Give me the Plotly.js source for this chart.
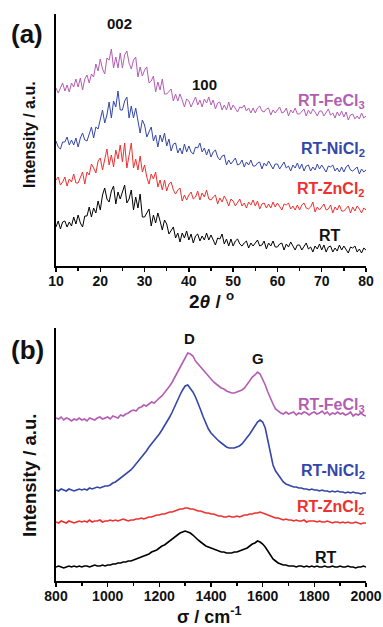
<!DOCTYPE html>
<html>
<head>
<meta charset="utf-8">
<script src="https://cdn.plot.ly/plotly-3.0.1.min.js"></script>
<style>html,body{margin:0;padding:0;background:#fff}#chart{width:383px;height:627px}</style>
</head>
<body>
<div id="chart"></div>
<script>
// ---------- (a) XRD data ----------
const twoTheta = [10,10.5,11,11.5,12,12.5,13,13.5,14,14.5,15,15.5,16,16.5,17,17.5,18,18.5,19,19.5,
20,20.5,21,21.5,22,22.5,23,23.5,24,24.5,25,25.5,26,26.5,27,27.5,28,28.5,29,29.5,
30,30.5,31,31.5,32,32.5,33,33.5,34,34.5,35,35.5,36,36.5,37,37.5,38,38.5,39,39.5,
40,40.5,41,41.5,42,42.5,43,43.5,44,44.5,45,45.5,46,46.5,47,47.5,48,48.5,49,49.5,
50,50.5,51,51.5,52,52.5,53,53.5,54,54.5,55,55.5,56,56.5,57,57.5,58,58.5,59,59.5,
60,60.5,61,61.5,62,62.5,63,63.5,64,64.5,65,65.5,66,66.5,67,67.5,68,68.5,69,69.5,
70,70.5,71,71.5,72,72.5,73,73.5,74,74.5,75,75.5,76,76.5,77,77.5,78,78.5,79,79.5,80];

const xrdFeCl3 = [178,173,178,183,175,181,174,183,179,187,
179,188,176,187,191,183,192,189,202,195,
207,197,192,208,206,217,198,209,198,213,
198,211,215,203,197,206,209,189,199,190,
196,199,183,185,190,174,184,176,187,172,
172,175,177,165,172,165,172,166,159,167,
165,159,164,169,161,166,159,167,163,169,
161,166,157,163,164,156,161,156,164,156,
161,157,154,159,158,161,155,158,153,158,
153,158,160,155,154,157,158,151,156,153,
156,159,153,154,158,150,156,153,158,152,
152,155,157,150,156,152,157,154,150,155,
155,150,154,157,151,153,148,154,150,155,
149,154,146,151,152,147,150,147,153,148,150];

const xrdNiCl2 = [125,119,117,124,124,129,121,126,121,128,
119,128,133,126,125,133,139,128,139,137,
146,156,143,151,164,148,165,159,175,156,
156,165,169,148,160,148,158,146,133,146,
141,129,134,139,125,131,119,131,124,133,
120,127,115,122,123,113,118,112,122,114,
120,114,112,119,118,123,114,118,111,117,
109,114,116,109,106,110,111,101,106,102,
105,108,101,102,106,99,104,101,106,100,
100,103,104,97,103,100,105,101,97,102,
102,97,101,104,98,100,95,101,98,103,
97,102,95,100,101,95,99,96,102,97,
101,97,94,100,99,101,95,98,94,99,
94,99,101,96,95,97,99,92,97,94,96];

const xrdZnCl2 = [86,89,81,84,89,80,87,84,92,83,
83,88,94,82,94,91,102,98,93,105,
108,96,108,117,101,111,99,116,107,121,
104,123,98,111,123,98,107,96,110,94,
101,89,82,92,87,94,79,86,76,86,
75,82,84,76,72,76,78,65,71,66,
71,74,67,69,75,66,73,69,76,67,
66,69,71,62,68,64,70,66,60,67,
65,60,64,67,60,63,58,64,61,66,
60,65,57,62,63,58,62,58,64,59,
63,59,56,62,61,63,57,60,56,61,
56,61,63,58,57,59,64,54,59,56,
59,62,56,57,61,53,59,56,61,55,
55,58,60,53,59,55,60,57,53,58,56];

const xrdRT = [39,45,37,44,45,39,44,40,49,42,
51,43,39,50,50,59,49,58,53,65,
56,71,78,67,64,75,80,62,74,67,
74,81,63,67,76,56,69,58,72,49,
49,53,57,40,51,43,53,45,36,46,
42,32,36,39,28,33,24,33,28,35,
26,32,23,30,32,25,30,26,33,26,
31,25,21,28,27,32,22,27,20,27,
20,25,27,22,20,23,25,18,23,20,
23,26,20,21,25,17,23,20,25,19,
19,22,23,16,22,19,24,20,16,21,
21,16,20,23,17,19,14,20,17,22,
16,21,14,19,20,14,18,15,21,16,
20,16,13,19,18,20,14,17,13,18,16];

// ---------- (b) Raman data ----------
const wavenumber = [800,810,820,830,840,850,860,870,880,890,
900,910,920,930,940,950,960,970,980,990,
1000,1010,1020,1030,1040,1050,1060,1070,1080,1090,
1100,1110,1120,1130,1140,1150,1160,1170,1180,1190,
1200,1210,1220,1230,1240,1250,1260,1270,1280,1290,
1300,1310,1320,1330,1340,1350,1360,1370,1380,1390,
1400,1410,1420,1430,1440,1450,1460,1470,1480,1490,
1500,1510,1520,1530,1540,1550,1560,1570,1580,1590,
1600,1610,1620,1630,1640,1650,1660,1670,1680,1690,
1700,1710,1720,1730,1740,1750,1760,1770,1780,1790,
1800,1810,1820,1830,1840,1850,1860,1870,1880,1890,
1900,1910,1920,1930,1940,1950,1960,1970,1980,1990,2000];

const ramanFeCl3 = [163,162,164,161,163,162,160,162,161,163,
161,162,160,163,162,161,163,164,162,163,
164,162,165,164,163,166,165,167,168,170,
171,170,173,174,176,175,177,179,178,181,
183,185,188,191,195,199,204,209,214,219,
224,228,227,225,220,217,213,210,207,204,
201,199,197,195,193,192,190,189,188,188,
189,190,191,193,197,200,204,206,209,207,
202,196,189,182,177,172,170,168,167,169,
167,168,169,166,168,167,169,168,166,168,
169,167,168,170,167,169,166,168,167,169,
167,168,166,167,169,165,167,166,168,166,165];

const ramanNiCl2 = [91,90,92,91,90,92,91,90,91,92,
91,92,91,93,92,93,94,93,94,95,
95,96,98,99,101,103,105,107,109,111,
114,117,120,123,127,130,134,137,140,143,
147,151,155,160,164,169,175,180,186,191,
195,196,193,189,184,178,171,164,158,152,
148,145,142,140,138,136,134,133,133,133,
134,135,137,140,143,147,151,155,159,161,
159,153,140,126,116,110,106,102,99,97,
96,95,94,94,93,93,92,92,91,92,
91,91,90,91,90,90,89,90,89,90,
89,89,88,89,88,89,88,88,87,88,88];

const ramanZnCl2 = [59,58,60,59,58,60,59,58,59,60,
59,60,59,61,59,60,60,61,59,60,
60,61,60,61,60,61,62,61,60,61,
61,62,62,63,62,63,64,64,65,66,
66,67,67,68,69,69,70,71,72,72,
73,73,72,72,71,70,70,69,68,68,
67,67,66,65,65,64,64,65,64,64,
65,64,65,66,66,67,67,68,68,69,
68,67,66,65,64,63,63,62,61,62,
61,61,60,61,60,60,61,59,60,60,
60,59,60,59,59,60,59,58,59,59,
58,59,58,59,58,58,59,58,57,58,58];

const ramanRT = [14,15,14,13,14,15,14,15,14,15,
14,15,15,14,15,16,15,15,16,15,
16,16,17,17,18,18,19,19,20,20,
21,22,23,24,25,26,27,29,30,31,
33,35,36,38,40,42,44,46,48,49,
50,49,48,46,43,41,39,37,35,34,
33,32,31,30,29,29,28,28,28,29,
29,30,31,32,33,35,37,38,40,39,
37,34,30,26,22,20,18,17,16,16,
15,15,15,14,15,15,14,15,14,15,
14,15,14,14,15,14,14,15,14,14,
15,14,14,15,14,14,13,14,14,15,14];

const xrdTicks = [10,20,30,40,50,60,70,80];
const ramanTicks = [800,1000,1200,1400,1600,1800,2000];

// ---------- styling ----------
const C_FE = '#b35db3', C_NI = '#3446a8', C_ZN = '#ee3030', C_RT = '#000000';
const FONT = 'Liberation Sans, Arial, sans-serif';
const W = 383, H = 627, L = 56, R = 17;
const PW = W - L - R;
const px = x => (x - L) / PW;
const py = y => 1 - y / H;

function tr(x, y, color, xa, ya, w) {
  return {x: x, y: y, type: 'scatter', mode: 'lines', xaxis: xa, yaxis: ya,
    line: {color: color, width: w}, hoverinfo: 'skip', showlegend: false};
}

const data = [
  tr(twoTheta, xrdRT, C_RT, 'x', 'y', 1),
  tr(twoTheta, xrdZnCl2, C_ZN, 'x', 'y', 1),
  tr(twoTheta, xrdNiCl2, C_NI, 'x', 'y', 1),
  tr(twoTheta, xrdFeCl3, C_FE, 'x', 'y', 1),
  tr(wavenumber, ramanRT, C_RT, 'x2', 'y2', 1.6),
  tr(wavenumber, ramanZnCl2, C_ZN, 'x2', 'y2', 1.6),
  tr(wavenumber, ramanNiCl2, C_NI, 'x2', 'y2', 1.6),
  tr(wavenumber, ramanFeCl3, C_FE, 'x2', 'y2', 1.6)
];

function xax(range, ticks, minorStep, anchor) {
  return {anchor: anchor, domain: [0, 1], range: range, tickvals: ticks,
    ticks: 'outside', ticklen: 4, tickwidth: 1.5, tickcolor: '#000',
    ticklabelstandoff: -3,
    minor: {dtick: minorStep, tick0: range[0], ticks: 'outside', ticklen: 3, tickwidth: 1.5, tickcolor: '#000', showgrid: false},
    showline: true, linewidth: 2, linecolor: '#000', showgrid: false, zeroline: false,
    tickfont: {family: FONT, size: 14, color: '#111', weight: 'bold'}, fixedrange: true};
}
function yax(domain, range, anchor) {
  return {anchor: anchor, domain: domain, range: range, showline: true, linewidth: 2,
    linecolor: '#000', showticklabels: false, ticks: '', showgrid: false, zeroline: false, fixedrange: true};
}

function ann(text, x, y, size, color, opts) {
  return Object.assign({text: text, xref: 'paper', yref: 'paper', x: px(x), y: py(y),
    xanchor: 'center', yanchor: 'middle', showarrow: false,
    font: {family: FONT, size: size, color: color, weight: 'bold'}}, opts || {});
}

const annotations = [
  ann('(a)', 27, 34, 26, '#111'),
  ann('(b)', 27, 350, 26, '#111'),
  ann('Intensity / a.u.', 29, 135, 16, '#111', {textangle: -90}),
  ann('Intensity / a.u.', 29, 476, 18.5, '#111', {textangle: -90}),
  ann('2<i>θ</i> / <sup>o</sup>', 212, 300, 19, '#111'),
  ann('σ / cm<sup>-1</sup>', 209, 615, 18, '#111'),
  ann('002', 119, 24, 15, '#111'),
  ann('100', 204, 84, 15, '#111'),
  ann('D', 189, 338, 15, '#111'),
  ann('G', 258, 358, 15, '#111'),
  ann('RT-FeCl<sub>3</sub>', 367, 102, 16, C_FE, {xanchor: 'right'}),
  ann('RT-NiCl<sub>2</sub>', 367, 149, 16, C_NI, {xanchor: 'right'}),
  ann('RT-ZnCl<sub>2</sub>', 367, 190, 16, C_ZN, {xanchor: 'right'}),
  ann('RT', 343, 235, 16, '#111', {xanchor: 'right'}),
  ann('RT-FeCl<sub>3</sub>', 367, 405, 16, C_FE, {xanchor: 'right'}),
  ann('RT-NiCl<sub>2</sub>', 367, 471, 16, C_NI, {xanchor: 'right'}),
  ann('RT-ZnCl<sub>2</sub>', 367, 507, 16, C_ZN, {xanchor: 'right'}),
  ann('RT', 339, 557, 16, '#111', {xanchor: 'right'})
];

const layout = {
  width: W, height: H,
  margin: {l: L, r: R, t: 0, b: 0},
  paper_bgcolor: '#fff', plot_bgcolor: 'rgba(0,0,0,0)',
  showlegend: false,
  xaxis: xax([10, 80], xrdTicks, 5, 'y'),
  yaxis: yax([1 - 266 / H, 1 - 14 / H], [0, 252], 'x'),
  xaxis2: xax([800, 2000], ramanTicks, 100, 'y2'),
  yaxis2: yax([1 - 581 / H, 1 - 328 / H], [0, 253], 'x2'),
  annotations: annotations
};

Plotly.newPlot('chart', data, layout, {staticPlot: true, displayModeBar: false});
</script>
</body>
</html>
